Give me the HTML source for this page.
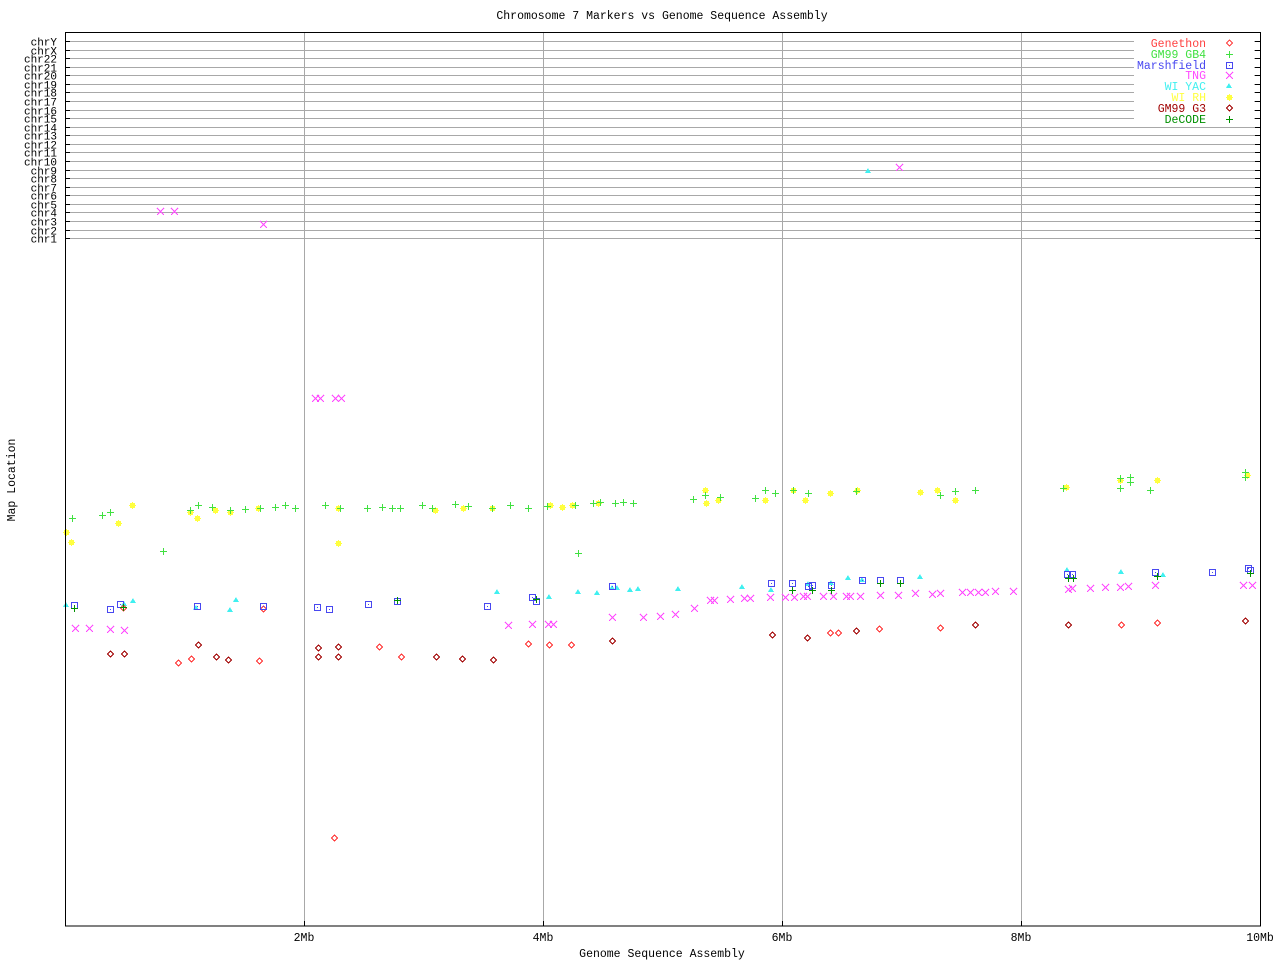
<!DOCTYPE html>
<html><head><meta charset="utf-8"><style>
html,body{margin:0;padding:0;background:#fff;}
svg text{font-family:"Liberation Mono","DejaVu Sans Mono",monospace;font-size:11.5px;}
svg text.c{font-size:11px;}
</style></head><body>
<svg id="s" width="1280" height="960" xmlns="http://www.w3.org/2000/svg" shape-rendering="crispEdges">
<rect width="1280" height="960" fill="#fff"/>
<text x="662" y="19" text-anchor="middle">Chromosome 7 Markers vs Genome Sequence Assembly</text>
<text x="662" y="957" text-anchor="middle">Genome Sequence Assembly</text>
<text x="0" y="0" text-anchor="middle" transform="translate(15,480) rotate(-90)">Map Location</text>
<g id="grid"></g>
<g id="pts"></g>
<rect x="65.5" y="32.5" width="1195" height="893.5" fill="none" stroke="#000" stroke-width="1"/>
<g id="leg"></g>
</svg>
<script>
var NS="http://www.w3.org/2000/svg";
function el(p,t,a,txt){var e=document.createElementNS(NS,t);for(var k in a)e.setAttribute(k,a[k]);if(txt)e.textContent=txt;p.appendChild(e);return e;}
var g=document.getElementById('grid');
var chrs=["chrY","chrX","chr22","chr21","chr20","chr19","chr18","chr17","chr16","chr15","chr14","chr13","chr12","chr11","chr10","chr9","chr8","chr7","chr6","chr5","chr4","chr3","chr2","chr1"];
chrs.forEach(function(c,i){var y=Math.round(41+i*8.57)+0.5;
el(g,'line',{x1:65,x2:1260,y1:y,y2:y,stroke:'#a8a8a8'});
el(g,'line',{x1:65,x2:70,y1:y,y2:y,stroke:'#000'});
el(g,'line',{x1:1255,x2:1260,y1:y,y2:y,stroke:'#000'});
el(g,'text',{x:57,y:y+4,'text-anchor':'end','class':'c'},c);});
[[304,"2Mb"],[543,"4Mb"],[782,"6Mb"],[1021,"8Mb"],[1260,"10Mb"]].forEach(function(t){
el(g,'line',{x1:t[0]+0.5,x2:t[0]+0.5,y1:32,y2:926,stroke:'#a8a8a8'});
el(g,'line',{x1:t[0]+0.5,x2:t[0]+0.5,y1:921,y2:926,stroke:'#000'});
el(g,'text',{x:t[0],y:941,'text-anchor':'middle'},t[1]);});
var p=document.getElementById('pts');
function mk(par,type,x,y,c){
if(type=='plus'){el(par,'path',{d:'M'+(x-3)+' '+(y+.5)+'h7M'+(x+.5)+' '+(y-3)+'v7',stroke:c,fill:'none'});}
else if(type=='dia'){el(par,'path',{d:'M'+(x+.5)+' '+(y-3)+'l3 3l-3 3l-3 -3z',stroke:c,fill:'none'});}
else if(type=='sq'){el(par,'rect',{x:x-3+.5,y:y-3+.5,width:6,height:6,stroke:c,fill:'none'});el(par,'rect',{x:x,y:y,width:1,height:1,fill:c});}
else if(type=='x'){el(par,'path',{d:'M'+(x-3)+' '+(y-3)+'l7 7M'+(x+4)+' '+(y-3)+'l-7 7',stroke:c,fill:'none','stroke-width':1});}
else if(type=='tri'){el(par,'path',{d:'M'+x+' '+(y-3)+'l3 5h-6z',fill:c});}
else if(type=='star'){el(par,'rect',{x:x-2,y:y-2,width:5,height:5,fill:c});el(par,'path',{d:'M'+(x-3)+' '+(y+.5)+'h7M'+(x+.5)+' '+(y-3)+'v7',stroke:c});}
}
var S={
GB4:['plus','#40e040',[[72,518],[102,515],[110,512],[163,551],[190,510],[198,505],[212,507],[230,510],[245,509],[260,508],[275,507],[285,505],[295,508],[325,505],[340,508],[367,508],[382,507],[392,508],[400,508],[422,505],[432,508],[455,504],[468,506],[492,508],[510,505],[528,508],[547,506],[575,505],[593,503],[600,502],[615,503],[623,502],[633,503],[578,553],[693,499],[705,495],[720,497],[755,498],[765,490],[775,493],[793,490],[808,493],[856,491],[940,495],[955,491],[975,490],[1063,488],[1120,478],[1130,482],[1150,490],[1245,477],[1120,488],[1130,477],[1245,472]]],
RH:['star','#ffff40',[[66,532],[71,542],[118,523],[132,505],[190,512],[197,518],[215,510],[230,512],[258,508],[338,508],[338,543],[435,510],[463,508],[492,508],[550,505],[562,507],[572,505],[598,503],[705,490],[706,503],[718,500],[793,490],[765,500],[805,500],[830,493],[857,490],[920,492],[937,490],[955,500],[1066,487],[1120,480],[1157,480],[1247,475]]],
MF:['sq','#4848f0',[[74,605],[110,609],[120,604],[197,606],[263,606],[317,607],[329,609],[368,604],[397,601],[487,606],[532,597],[536,601],[612,586],[771,583],[792,583],[808,586],[812,585],[831,585],[862,580],[880,580],[900,580],[1067,574],[1072,574],[1155,572],[1212,572],[1248,568],[1250,570]]],
YAC:['tri','#40f0f0',[[66,605],[124,604],[133,601],[196,608],[230,610],[236,600],[497,592],[549,597],[578,592],[597,593],[612,588],[617,588],[630,590],[638,589],[678,589],[742,587],[771,590],[808,584],[831,583],[848,578],[862,580],[868,171],[920,577],[1067,570],[1121,572],[1163,575]]],
TNG:['x','#ff48ff',[[160,211],[174,211],[263,224],[75,628],[89,628],[110,629],[124,630],[315,398],[320,398],[335,398],[341,398],[508,625],[532,624],[548,624],[553,624],[612,617],[643,617],[660,616],[675,614],[694,608],[710,600],[714,600],[730,599],[744,598],[750,598],[770,597],[785,597],[794,597],[803,596],[807,596],[823,596],[833,596],[846,596],[850,596],[860,596],[880,595],[898,595],[915,593],[932,594],[940,593],[962,592],[970,592],[978,592],[985,592],[995,591],[1013,591],[1068,589],[1072,588],[1090,588],[1105,587],[1120,587],[1128,586],[1155,585],[1243,585],[1252,585],[899,167]]],
GEN:['dia','#ff3030',[[178,663],[191,659],[259,661],[334,838],[379,647],[401,657],[528,644],[549,645],[571,645],[940,628],[1121,625],[1157,623],[830,633],[838,633],[879,629],[263,609],[123,608]]],
G3:['dia','#a00000',[[110,654],[124,654],[198,645],[216,657],[228,660],[318,648],[318,657],[338,647],[338,657],[436,657],[462,659],[493,660],[612,641],[772,635],[807,638],[856,631],[975,625],[1068,625],[1245,621]]],
DC:['plus','#009000',[[74,608],[123,607],[397,600],[536,599],[792,590],[812,590],[831,590],[880,583],[900,583],[1068,578],[1073,578],[1157,576],[1250,573]]]
};
['RH','GB4','YAC','TNG','GEN','G3','MF','DC'].forEach(function(k){var s=S[k];s[2].forEach(function(q){mk(p,s[0],q[0],q[1],s[1]);});});
var L=document.getElementById('leg');
[["Genethon",'dia','#ff4040'],["GM99 GB4",'plus','#40e040'],["Marshfield",'sq','#4848f0'],["TNG",'x','#ff48ff'],["WI YAC",'tri','#40f0f0'],["WI RH",'star','#ffff40'],["GM99 G3",'dia','#a00000'],["DeCODE",'plus','#009000']].forEach(function(r,i){
var y=Math.round(43+i*10.8);
el(L,'rect',{x:1134,y:y-6,width:120,height:11,fill:'#fff'});
el(L,'text',{x:1206,y:y+4,'text-anchor':'end',fill:r[2]},r[0]);
mk(L,r[1],1229,y,r[2]);});
</script>
</body></html>
